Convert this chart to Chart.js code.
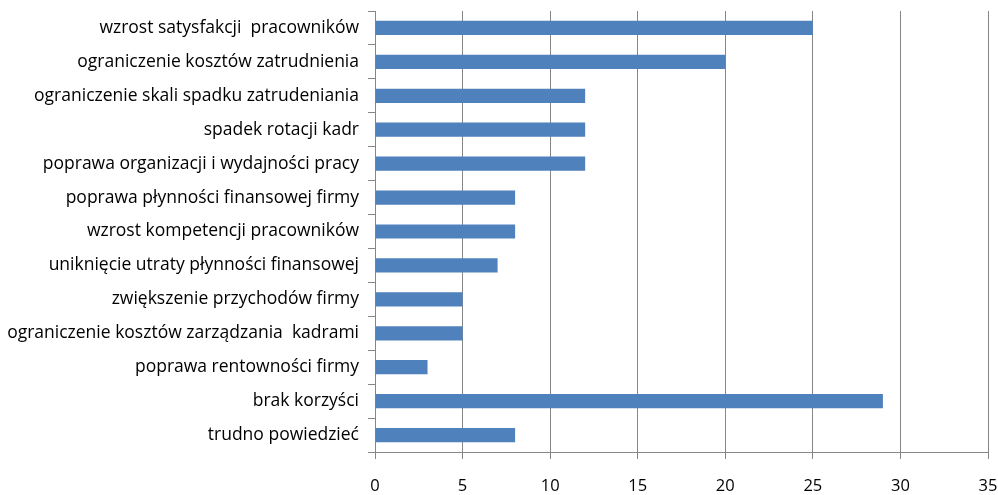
<!DOCTYPE html>
<html>
<head>
<meta charset="utf-8">
<script src="https://cdn.jsdelivr.net/npm/chart.js@4"></script>
<style>
  html, body { margin: 0; padding: 0; background: #fff; }
  #wrap { width: 998px; height: 495px; }
</style>
</head>
<body>
<div id="wrap"><canvas id="benefitsChart"></canvas></div>
<script>
// categories and counts
let categories = [
    "wzrost satysfakcji  pracowników",
    "ograniczenie kosztów zatrudnienia",
    "ograniczenie skali spadku zatrudeniania",
    "spadek rotacji kadr",
    "poprawa organizacji i wydajności pracy",
    "poprawa płynności finansowej firmy",
    "wzrost kompetencji pracowników",
    "uniknięcie utraty płynności finansowej",
    "zwiększenie przychodów firmy",
    "ograniczenie kosztów zarządzania  kadrami",
    "poprawa rentowności firmy",
    "brak korzyści",
    "trudno powiedzieć"
];
let counts = [25, 20, 12, 12, 12, 8, 8, 7, 5, 5, 3, 29, 8];
let xMin = 0, xMax = 35, xStep = 5;

let axisGrey = "#868686";
let barBlue = "#4F81BD";

new Chart("benefitsChart", {
    type: "bar",
    data: {
        labels: categories,
        datasets: [{
            data: counts,
            backgroundColor: barBlue,
            borderWidth: 0,
            categoryPercentage: 1,
            barPercentage: 0.42
        }]
    },
    options: {
        indexAxis: "y",
        responsive: true,
        maintainAspectRatio: false,
        animation: false,
        layout: { padding: { top: 11, right: 10, bottom: 0, left: 0 } },
        plugins: {
            legend: { display: false },
            tooltip: { enabled: false }
        },
        scales: {
            x: {
                min: xMin,
                max: xMax,
                ticks: {
                    stepSize: xStep,
                    color: "#000",
                    padding: 17,
                    font: { family: "Open Sans", size: 16.5 }
                },
                grid: {
                    color: axisGrey,
                    lineWidth: 1,
                    tickLength: 7,
                    drawTicks: true
                },
                border: { display: true, color: axisGrey, width: 1 },
                afterFit: function (scale) {
                    scale.height = 43;
                    scale.paddingLeft = 0;
                    scale.paddingRight = 0;
                }
            },
            y: {
                ticks: {
                    color: "#000",
                    padding: 9,
                    autoSkip: false,
                    font: { family: "Open Sans", size: 17.5 }
                },
                grid: {
                    offset: true,
                    drawOnChartArea: false,
                    color: axisGrey,
                    tickLength: 7
                },
                border: { display: true, color: axisGrey, width: 1 },
                afterFit: function (scale) {
                    scale.width = 375;
                    scale.paddingTop = 0;
                    scale.paddingBottom = 0;
                }
            }
        }
    }
});
</script>
</body>
</html>
